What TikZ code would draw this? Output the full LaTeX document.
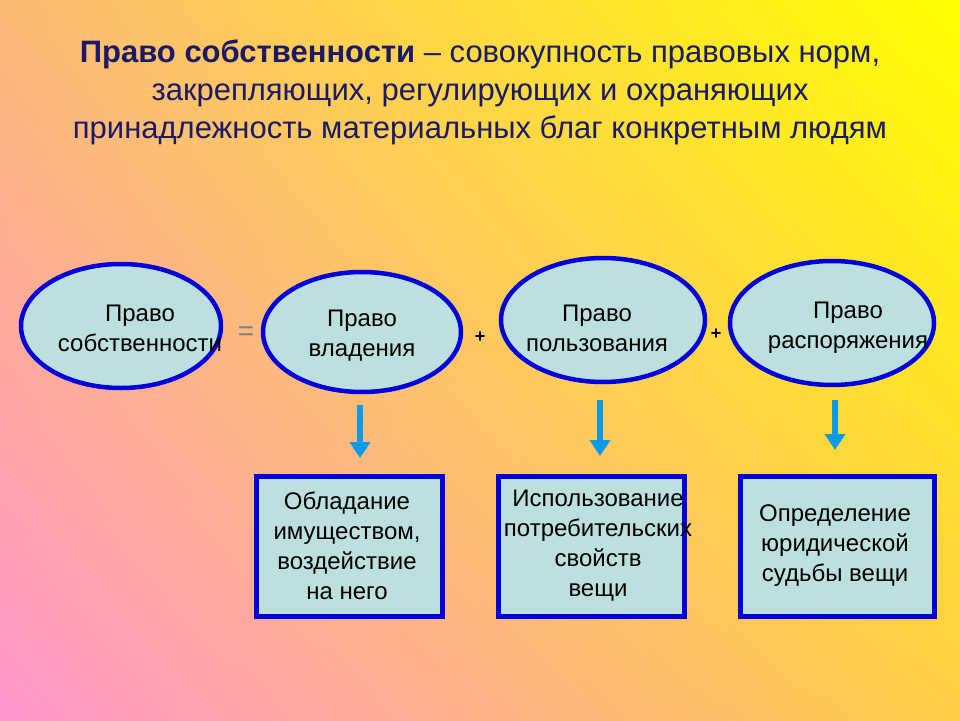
\documentclass[tikz,border=0pt]{standalone}
\usepackage{fontspec}
\setmainfont{Liberation Sans}
\usetikzlibrary{shapes.geometric,arrows.meta,shadings}
\definecolor{navy}{HTML}{1A1A66}
\definecolor{fillb}{HTML}{BCE0E0}
\definecolor{bord}{HTML}{0000DD}
\definecolor{arr}{HTML}{0A9BE8}
\definecolor{cUL}{HTML}{FDB976}
\definecolor{cUR}{HTML}{FFFF00}
\definecolor{cLL}{HTML}{FF96CD}
\definecolor{cLR}{HTML}{FFCD46}
\tikzset{
 ell/.style={ellipse,draw=bord,fill=fillb,line width=4.5pt},
 bx/.style={draw=bord,fill=fillb,line width=4.5pt,minimum height=140,anchor=north west},
 txt/.style={font=\fontsize{24}{30}\selectfont,align=center,text=black},
 dn/.style={draw=arr,line width=6pt,-{Triangle[width=20pt,length=16pt]}},
}
\begin{document}
\begin{tikzpicture}[x=1pt,y=-1pt]
\useasboundingbox (0,0) rectangle (960,720);
\shade[upper left=cUL,upper right=cUR,lower left=cLL,lower right=cLR] (0,0) rectangle (960,720);
\node[text=navy,font=\fontsize{31}{38}\selectfont,align=center] (title) at (480,92) {\textbf{Право собственности} – совокупность правовых норм,\\закрепляющих, регулирующих и охраняющих\\принадлежность материальных благ конкретным людям};
\node[ell,minimum width=200,minimum height=124] (e1) at (121,326) {};
\node[ell,minimum width=198,minimum height=120] (e2) at (362,332) {};
\node[ell,minimum width=204,minimum height=124] (e3) at (603,320) {};
\node[ell,minimum width=204,minimum height=124] (e4) at (832,323) {};
\node[txt] (t1) at (140,328) {Право\\собственности};
\node[txt] (t2) at (362,336) {Право\\владения};
\node[txt] (t3) at (597,328) {Право\\пользования};
\node[txt] (t4) at (848,328) {Право\\распоряжения};
\node[text=gray,font=\fontsize{28}{28}\selectfont] (eq) at (246,334) {=};
\node[font=\bfseries\fontsize{18}{18}\selectfont] (p1) at (480,337) {+};
\node[font=\bfseries\fontsize{18}{18}\selectfont] (p2) at (716,334) {+};
\node[bx,minimum width=186] (b1) at (254,474) {};
\node[bx,minimum width=186] (b2) at (496,474) {};
\node[bx,minimum width=194] (b3) at (738,474) {};
\node[txt] (bt1) at (347,546) {Обладание\\имуществом,\\воздействие\\на него};
\node[txt] (bt2) at (598,546) {Использование\\потребительских\\свойств\\вещи};
\node[txt] (bt3) at (835,546) {Определение\\юридической\\судьбы вещи};
\coordinate (a1) at (360,405); \coordinate (a1e) at (360,458);
\coordinate (a2) at (600,400); \coordinate (a2e) at (600,456);
\coordinate (a3) at (835,400); \coordinate (a3e) at (835,450);
\draw[dn] (a1) -- (a1e);
\draw[dn] (a2) -- (a2e);
\draw[dn] (a3) -- (a3e);
\end{tikzpicture}
\end{document}
